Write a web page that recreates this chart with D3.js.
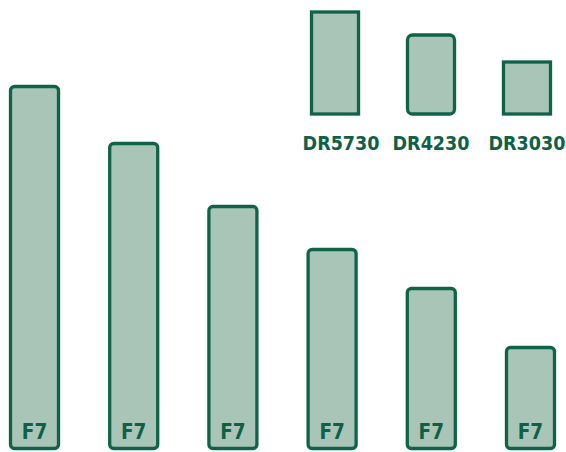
<!DOCTYPE html>
<meta charset="utf-8">
<style>
body { margin: 0; background: #fff; }
text { font-family: "DejaVu Sans Condensed", "DejaVu Sans", sans-serif; font-stretch: condensed; font-weight: bold; fill: #0e6146; }
.bar { fill: #a9c5b8; stroke: #0f6448; stroke-width: 3.3px; }
</style>
<svg width="566" height="452"></svg>
<script src="https://d3js.org/d3.v7.min.js"></script>
<script>

// bottom row: six F7 bars
var barNames = ["a", "b", "c", "d", "e", "f"];
var barLabels = ["F7", "F7", "F7", "F7", "F7", "F7"];
var barValues = [362, 305, 242, 199, 160, 101];

// top row: DR boxes
var boxNames = ["DR5730", "DR4230", "DR3030"];
var boxValues = [102, 79, 52];
var boxRounded = [false, true, false];

var svg = d3.select("svg");

var x = d3.scaleBand()
    .domain(barNames)
    .range([10.5, 554.5])
    .paddingInner(0.516)
    .paddingOuter(0);

var y = d3.scaleLinear()
    .domain([0, 362])
    .range([448.5, 86.5]);

svg.append("g")
  .selectAll("rect")
  .data(barValues)
  .enter().append("rect")
    .attr("class", "bar")
    .attr("x", function(d, i) { return x(barNames[i]); })
    .attr("y", function(d) { return y(d); })
    .attr("width", x.bandwidth())
    .attr("height", function(d) { return y(0) - y(d); })
    .attr("rx", 4);

svg.append("g")
  .selectAll("text")
  .data(barLabels)
  .enter().append("text")
    .attr("x", function(d, i) { return x(barNames[i]) + x.bandwidth() / 2; })
    .attr("y", 439)
    .attr("text-anchor", "middle")
    .style("font-size", "20.5px")
    .text(function(d) { return d; });

var x2 = d3.scaleBand()
    .domain(boxNames)
    .range([311.5, 550.5])
    .paddingInner(0.51)
    .paddingOuter(0);

var y2 = d3.scaleLinear()
    .domain([0, 102])
    .range([114, 12]);

svg.append("g")
  .selectAll("rect")
  .data(boxValues)
  .enter().append("rect")
    .attr("class", "bar")
    .attr("x", function(d, i) { return x2(boxNames[i]); })
    .attr("y", function(d) { return y2(d); })
    .attr("width", x2.bandwidth())
    .attr("height", function(d) { return y2(0) - y2(d); })
    .attr("rx", function(d, i) { return boxRounded[i] ? 5 : 0; });

svg.append("g")
  .selectAll("text")
  .data(boxNames)
  .enter().append("text")
    .attr("x", function(d, i) { return x2(d) + x2.bandwidth() / 2 + (i === 0 ? 6 : 0); })
    .attr("y", 150)
    .attr("text-anchor", "middle")
    .style("font-size", "19.5px")
    .text(function(d) { return d; });

</script>
